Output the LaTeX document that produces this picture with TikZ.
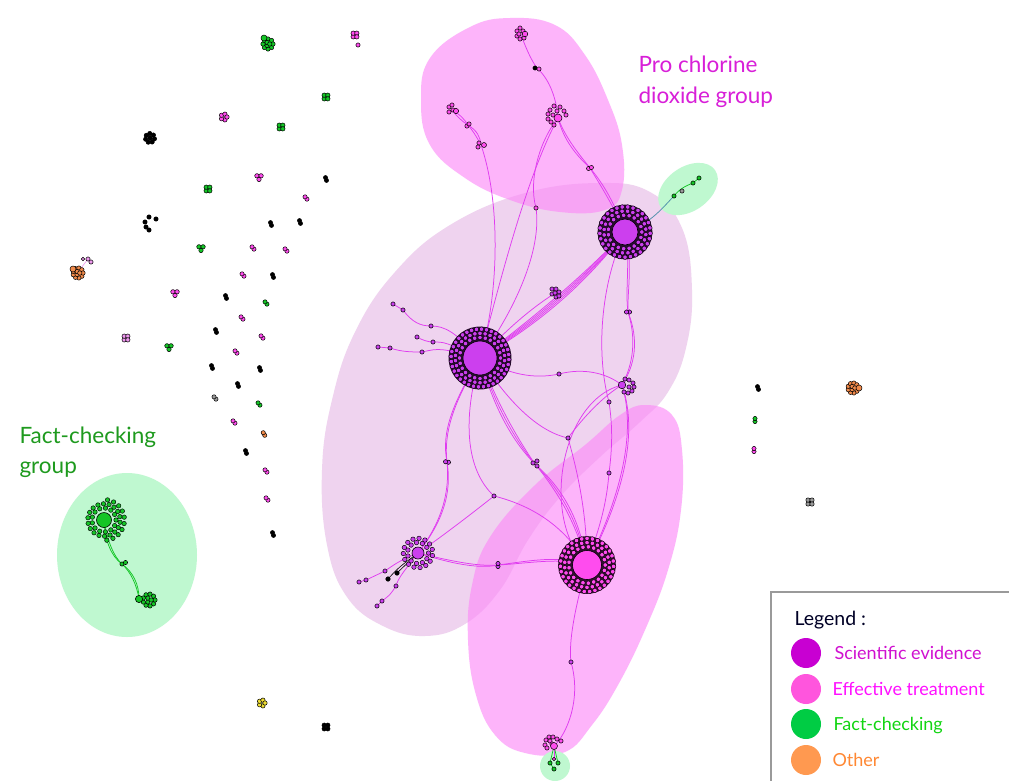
\documentclass[tikz,border=0pt]{standalone}
\usepackage{fontspec}
\setmainfont{Lato}
\usetikzlibrary{calc}
\definecolor{pur}{HTML}{CC3FEE}
\definecolor{pnk}{HTML}{FF4CEE}
\definecolor{grn}{HTML}{14C526}
\definecolor{org}{HTML}{F08A4B}
\definecolor{gry}{HTML}{9A9A9A}
\definecolor{ylw}{HTML}{EEDD33}
\definecolor{lpk}{HTML}{EE99EE}
\definecolor{edgec}{HTML}{E03CF0}
\definecolor{blobpur}{HTML}{EFD3EF}
\definecolor{blobpk}{HTML}{FC8CF8}
\definecolor{blobgr}{HTML}{BFF8D0}
\definecolor{teal}{HTML}{4F8FAA}
\definecolor{tpro}{HTML}{D81FD8}
\definecolor{tfc}{HTML}{1E9A1E}
\definecolor{lg1}{HTML}{C800D2}
\definecolor{lg2}{HTML}{FF55DD}
\definecolor{lg3}{HTML}{00CC44}
\definecolor{lg4}{HTML}{FF9950}
\definecolor{lt1}{HTML}{D010D0}
\definecolor{lt2}{HTML}{FF10FF}
\definecolor{lt3}{HTML}{11D511}
\definecolor{lt4}{HTML}{FF8833}
\tikzset{
  nd/.style={draw=black,line width=0.5pt},
  rd/.style={draw=black,line width=0.45pt},
  ed/.style={draw=edgec,line width=0.75pt},
  ged/.style={draw=grn,line width=0.75pt},
  ttl/.style={anchor=base west,font=\fontsize{22.5}{26}\selectfont},
  lgt/.style={anchor=base west,font=\fontsize{18}{21}\selectfont},
}
\newcommand\ringdots[5]{\foreach \k in {1,...,#3}{\filldraw[rd,fill=#4] ($(#1)+({#5+360*\k/#3}:#2)$) circle (2.25);}}
\newcommand\clus[6]{\foreach \k in {1,...,#4}{\filldraw[nd,fill=#3] ($(#1,#2)+({#6+360*\k/#4}:#5)$) circle (2.2);}}
\newcommand\pr[4]{\filldraw[nd,fill=#3] ($(#1,#2)+({#4}:1.5)$) circle (2.1);\filldraw[nd,fill=#3] ($(#1,#2)+({#4+180}:1.5)$) circle (2.1);}
\newcommand\underlay[3]{\fill[black!80!#3, even odd rule] (#1) circle (#2);}
\begin{document}
\begin{tikzpicture}[x=1pt,y=-1pt]
\useasboundingbox (0,0) rectangle (1009,780);
\fill[white] (0,0) rectangle (1009,780);
% ---------- blobs
\fill[blobpur] plot[smooth cycle,tension=0.7] coordinates {(600,183) (650,192) (682,228) (692,290) (686,348) (668,392) (640,422) (600,457) (560,497) (528,540) (500,590) (465,624) (425,636) (383,626) (347,597) (327,545) (322,470) (332,400) (355,332) (395,272) (450,225) (525,193)};
\fill[blobpk,opacity=0.65] plot[smooth cycle,tension=0.7] coordinates {(470,27) (430,58) (421,100) (430,145) (465,178) (510,200) (560,212) (605,210) (622,190) (622,145) (608,100) (585,55) (555,25) (510,18)};
\fill[blobpk,opacity=0.65] plot[smooth cycle,tension=0.7] coordinates {(645,405) (672,415) (682,450) (681,510) (668,570) (645,630) (618,685) (592,725) (565,752) (525,753) (495,735) (476,695) (468,640) (472,585) (490,537) (535,485) (585,445) (620,415)};
\fill[blobgr,rotate around={35:(688,189)}] (688,189) ellipse (33 and 22);
\fill[blobgr] (127,555) ellipse (70 and 82);
\fill[blobgr] (555,766) circle (15);
% ---------- coordinates
\coordinate (A) at (480,358);
\coordinate (B) at (625,232);
\coordinate (C) at (587,565);
\coordinate (D) at (418,553);
\coordinate (E) at (622,385);
\coordinate (T1) at (558,118);
\coordinate (T2) at (521,35);
\coordinate (T3) at (452,110);
\coordinate (p1) at (468,125);
\coordinate (p2) at (481,145);
\coordinate (bk) at (537,68);
\coordinate (t1p) at (590,168);
\coordinate (n1) at (536,208);
\coordinate (P1) at (555,293);
\coordinate (P2) at (628,312);
\coordinate (n2) at (559,374);
\coordinate (n3) at (609,402);
\coordinate (n4) at (568,438);
\coordinate (n5) at (609,473);
\coordinate (n6) at (447,462);
\coordinate (n7) at (494,496);
\coordinate (n8) at (535,464);
\coordinate (n9) at (498,565);
\coordinate (n10) at (571,662);
\coordinate (BOT) at (554,746);
\coordinate (g1) at (674,196);
\coordinate (g0) at (682,191);
\coordinate (g2) at (693,183);
\coordinate (g3) at (699,178);
\coordinate (gb0) at (554,759);
\coordinate (gb1) at (550,763);
\coordinate (gb2) at (558,763);
\coordinate (gb3) at (554,769);
\coordinate (l1) at (393,304);
\coordinate (l2) at (403,310);
\coordinate (l3) at (431,326);
\coordinate (l4) at (417,337);
\coordinate (l5) at (433,342);
\coordinate (l6) at (378,347);
\coordinate (l7) at (390,348);
\coordinate (l8) at (422,352);
\coordinate (d1) at (385,571);
\coordinate (d2) at (397,573);
\coordinate (d3) at (388,579);
\coordinate (d4) at (366,580);
\coordinate (d5) at (359,582);
\coordinate (d6) at (396,586);
\coordinate (d7) at (382,601);
\coordinate (d8) at (377,606);
\coordinate (F1) at (104,520);
\coordinate (F2) at (139,599);
\coordinate (fm) at (122,564);
\coordinate (O1) at (78,272);
\coordinate (op) at (88,259);
% ---------- edges
\foreach \o in {-4,-2,0,2,4} \draw[ed,shift={(\o*0.7,\o*0.7)}] (A) .. controls (530,325) and (580,285) .. (B);
\draw[ed] (A) .. controls (520,315) and (545,300) .. (P1);
\draw[ed] (T2) .. controls (526,48) and (531,60) .. (bk);
\draw[ed] (bk) .. controls (548,78) and (556,95) .. (T1);
\draw[ed] (T1) .. controls (540,140) and (528,180) .. (n1);
\draw[ed] (n1) .. controls (542,250) and (515,310) .. (A);
\draw[ed] (T1) .. controls (530,170) and (505,260) .. (A);
\foreach \o in {-1.2,1.2}{
  \draw[ed,shift={(\o,-\o*0.6)}] (T1) .. controls (565,140) and (578,155) .. (t1p);
  \draw[ed,shift={(\o,-\o*0.6)}] (t1p) .. controls (600,182) and (612,200) .. (B);
  \draw[ed,shift={(\o,-\o)}] (T3) .. controls (458,115) and (463,120) .. (p1);
  \draw[ed,shift={(\o,-\o)}] (p1) .. controls (476,132) and (479,138) .. (p2);
  \draw[ed,shift={(\o,0)}] (B) .. controls (632,262) and (626,290) .. (P2);
  \draw[ed,shift={(\o,0)}] (P2) .. controls (638,340) and (634,365) .. (E);
  \draw[ed,shift={(\o,-\o)}] (A) .. controls (455,400) and (442,430) .. (n6);
  \draw[ed,shift={(\o,-\o)}] (n6) .. controls (452,500) and (436,530) .. (D);
  \draw[ed,shift={(0,\o)}] (D) .. controls (450,562) and (478,568) .. (n9);
  \draw[ed,shift={(0,\o)}] (n9) .. controls (530,562) and (560,556) .. (C);
  \draw[ed,shift={(\o,0)}] (E) .. controls (640,440) and (615,510) .. (C);
  \draw[ged,shift={(\o,0)}] (F1) .. controls (106,540) and (112,556) .. (fm);
  \draw[ged,shift={(\o,0)}] (fm) .. controls (132,572) and (138,585) .. (F2);
}
\draw[ed] (p2) .. controls (500,200) and (500,290) .. (A);
\foreach \o in {-2,0,2}{
  \draw[ed,shift={(\o,-\o)}] (A) .. controls (495,405) and (515,440) .. (n8);
  \draw[ed,shift={(\o,-\o)}] (n8) .. controls (560,490) and (578,520) .. (C);
}
\draw[ed] (A) .. controls (515,378) and (540,378) .. (n2);
\draw[ed] (n2) .. controls (582,368) and (605,372) .. (E);
\draw[ed] (A) .. controls (510,405) and (540,432) .. (n4);
\draw[ed] (n4) .. controls (585,415) and (605,395) .. (E);
\draw[ed] (n4) .. controls (580,480) and (587,520) .. (C);
\draw[ed] (A) .. controls (462,420) and (466,470) .. (n7);
\draw[ed] (n7) .. controls (530,505) and (565,525) .. (C);
\draw[ed] (n7) .. controls (470,515) and (440,538) .. (D);
\draw[ed] (B) .. controls (600,285) and (596,355) .. (n3);
\draw[ed] (n3) .. controls (613,428) and (612,450) .. (n5);
\draw[ed] (n5) .. controls (606,510) and (598,530) .. (C);
\draw[ed] (E) .. controls (560,400) and (540,520) .. (C);
\draw[ed] (C) .. controls (577,600) and (568,640) .. (n10);
\draw[ed] (n10) .. controls (582,700) and (566,735) .. (BOT);
\draw[ed] (BOT) -- (gb0);
\draw[ged] (BOT) -- (gb1); \draw[ged] (BOT) -- (gb2); \draw[ged] (gb1) -- (gb3);
\draw[draw=teal,line width=0.75pt] (B) .. controls (650,225) and (665,205) .. (g1);
\draw[ged] (g1) .. controls (680,188) and (688,185) .. (g2) -- (g3);
% left leaves
\draw[ed] (l1) -- (l2);
\draw[ed] (l2) .. controls (412,322) and (420,326) .. (l3);
\draw[ed] (l3) .. controls (445,326) and (455,332) .. (A);
\draw[ed] (l4) .. controls (422,340) and (428,342) .. (l5) .. controls (445,342) .. (A);
\draw[ed] (l6) -- (l7);
\draw[ed] (l7) .. controls (402,352) and (412,352) .. (l8) .. controls (440,348) .. (A);
% D leaves
\draw[ed] (D) .. controls (400,560) and (392,566) .. (d1) .. controls (376,576) .. (d4) -- (d5);
\draw[black,line width=0.6pt] (D) -- (d2); \draw[black,line width=0.6pt] (D) .. controls (398,568) .. (d3);
\draw[ed] (D) .. controls (405,570) and (398,578) .. (d6) .. controls (390,595) .. (d7) -- (d8);
\draw[draw=lpk,line width=0.6pt] (O1) -- (op);
% ---------- hubs
\underlay{A}{31.4}{pur}
\ringdots{A}{20.5}{24}{pur}{0}
\ringdots{A}{24.7}{30}{pur}{6}
\ringdots{A}{28.9}{36}{pur}{3}
\filldraw[fill=pur,draw=black,line width=0.6pt] (A) circle (17);
\underlay{B}{27.4}{pur}
\ringdots{B}{16.8}{19}{pur}{0}
\ringdots{B}{21}{24}{pur}{7}
\ringdots{B}{25.2}{29}{pur}{3}
\filldraw[fill=pur,draw=black,line width=0.6pt] (B) circle (13);
\underlay{C}{28.8}{pnk}
\ringdots{C}{18.2}{21}{pnk}{0}
\ringdots{C}{22.4}{26}{pnk}{7}
\ringdots{C}{26.6}{31}{pnk}{3}
\filldraw[fill=pnk,draw=black,line width=0.6pt] (C) circle (14.5);
\ringdots{D}{10.5}{11}{pur}{0}
\ringdots{D}{14.7}{15}{pur}{10}
\filldraw[fill=pur,draw=black,line width=0.6pt] (D) circle (6);
\ringdots{F1}{12}{13}{grn}{0}
\ringdots{F1}{16.2}{18}{grn}{8}
\foreach \a in {-80,-62,-44,-26,-8,10,28,46,64,82}{\filldraw[rd,fill=grn] ($(F1)+(\a:20.4)$) circle (2.25);}
\filldraw[fill=grn,draw=black,line width=0.6pt] (F1) circle (7.5);
\clus{149}{600}{grn}{9}{6}{0}
\clus{149}{600}{grn}{3}{2.2}{0}
\filldraw[fill=grn,draw=black,line width=0.6pt] (F2) circle (3.6);
\filldraw[nd,fill=grn] (fm) circle (2.1); \filldraw[nd,fill=grn] ($(fm)+(3.5,-1.5)$) circle (2.1);
% E cluster
\foreach \x/\y in {625/379,629/380,633/383,634/387,632/391,628/393,624/392,629/387}{\filldraw[nd,fill=pur] (\x,\y) circle (2.1);}
\filldraw[fill=pur,draw=black,line width=0.5pt] (E) circle (3.8);
% T1 cluster
\foreach \x/\y in {550/110,554/106,560/107,564/111,566/115,548/114,548/119,551/122,554/125,553/115,557/111}{\filldraw[nd,fill=pnk] (\x,\y) circle (2.1);}
\filldraw[fill=pnk,draw=black,line width=0.5pt] (T1) circle (4);
% T2 cluster
\foreach \x/\y in {517/31,520/28,523/31,517/36,520/39,524/38,519/34}{\filldraw[nd,fill=pnk] (\x,\y) circle (2.1);}
\filldraw[nd,fill=pnk] (525,34) circle (2.8);
% T3 cluster & pairs
\foreach \x/\y in {449/107,452/105,449/112,453/110}{\filldraw[nd,fill=pnk] (\x,\y) circle (2.1);}
\filldraw[nd,fill=pnk] (456,111) circle (2.6);
\pr{468}{125}{pnk}{135}
\foreach \x/\y in {479/143,478/147}{\filldraw[nd,fill=pnk] (\x,\y) circle (2.1);}
\filldraw[nd,fill=pnk] (484,145) circle (2.5);
\filldraw[nd,fill=black] (535,68) circle (2.1); \filldraw[nd,fill=pnk] (539,69) circle (2.1);
\pr{590}{168}{pnk}{160}
\filldraw[nd,fill=pnk] (n1) circle (2.1);
% P1 cluster
\foreach \x/\y in {552/289,556/289,559/292,552/294,556/297,559/296,555/293}{\filldraw[nd,fill=pur] (\x,\y) circle (2.1);}
\pr{628}{312}{pur}{0}
\foreach \n in {n2,n3,n4,n5,n7,n10}{\filldraw[nd,fill=pur] (\n) circle (2.1);}
\pr{447}{462}{pur}{10}
\foreach \x/\y in {533/463,537/461,537/466}{\filldraw[nd,fill=pur] (\x,\y) circle (2.1);}
\pr{498}{565}{pur}{90}
% BOT cluster
\foreach \x/\y in {546/740,549/737,553/737,557/739,561/741,545/745,547/748,550/741,552/744}{\filldraw[nd,fill=pnk] (\x,\y) circle (2.1);}
\filldraw[fill=pnk,draw=black,line width=0.5pt] (BOT) circle (3.5);
\filldraw[nd,fill=pnk] (gb0) circle (1.8);
\foreach \n in {gb1,gb2,gb3}{\filldraw[nd,fill=grn] (\n) circle (2.1);}
% green near B
\filldraw[nd,fill=grn] (g1) circle (2.1); \filldraw[nd,fill=gry] (g0) circle (2.1);
\filldraw[nd,fill=grn] (g2) circle (2.1); \filldraw[nd,fill=grn] (g3) circle (2.1);
% leaves
\foreach \n in {l1,l2,l3,l4,l5,l6,l7,l8,d1,d4,d5,d6,d7,d8}{\filldraw[nd,fill=pur] (\n) circle (2.1);}
\filldraw[fill=black] (d2) circle (2.3); \filldraw[fill=black] (d3) circle (2.3);
% ---------- scattered components
\clus{268}{44}{grn}{8}{5}{0} \clus{268}{44}{grn}{3}{1.8}{0} \filldraw[nd,fill=grn] (264,38) circle (3);
\clus{355}{35}{pnk}{4}{2.6}{45} \filldraw[nd,fill=pnk] (358,45) circle (2.1);
\clus{326}{97}{grn}{4}{2.6}{45}
\clus{224}{117}{pnk}{5}{3}{0}
\clus{281}{127}{grn}{4}{2.6}{45}
\clus{150}{138}{black}{7}{4.5}{10} \filldraw[nd,fill=black] (150,138) circle (2.2);
\clus{259}{177}{pnk}{3}{2.4}{90}
\clus{208}{189}{grn}{4}{2.6}{45}
\foreach \x/\y in {149/217,156/219,145/222,146/227,149/230}{\filldraw[nd,fill=black] (\x,\y) circle (2.2);}
\clus{201}{248}{grn}{3}{2.4}{90}
\clus{175}{293}{pnk}{3}{2.4}{90}
\clus{126}{338}{lpk}{4}{2.6}{45}
\clus{169}{347}{grn}{3}{2.4}{90}
\clus{78}{273}{org}{9}{5}{0} \clus{78}{273}{org}{3}{1.8}{0} \filldraw[nd,fill=org] (73,269) circle (3);
\filldraw[nd,fill=lpk] (op) circle (2.1); \filldraw[nd,fill=lpk] (83,259) circle (1.8); \filldraw[nd,fill=lpk] (91,262) circle (2.1);
\clus{853}{388}{org}{9}{5}{0} \clus{853}{388}{org}{3}{1.8}{0} \filldraw[nd,fill=org] (859,388) circle (3);
\clus{810}{502}{gry}{4}{2.8}{45}
\clus{262}{703}{ylw}{5}{3}{0}
\clus{326}{727}{black}{4}{2.6}{45}
\foreach \x/\y in {326/179,271/224,300/222,273/276,226/297,216/331,212/367,260/369,238/385,246/452,273/534,758/388}{\pr{\x}{\y}{black}{70}}
\foreach \x/\y in {306/198,253/248,286/250,243/275,242/318,262/337,236/352,234/422,266/471,267/499}{\pr{\x}{\y}{pnk}{50}}
\foreach \x/\y in {266/303,259/404}{\pr{\x}{\y}{grn}{50}}
\pr{215}{398}{gry}{50}
\pr{264}{434}{org}{60}
\pr{755}{420}{grn}{90}
\pr{754}{450}{pnk}{90}
% ---------- titles
\node[ttl,text=tpro] (pt1) at (635,72) {Pro chlorine};
\node[ttl,text=tpro] (pt2) at (635,103) {dioxide group};
\node[ttl,text=tfc] (ft1) at (16,443) {Fact-checking};
\node[ttl,text=tfc] (ft2) at (16,473) {group};
% ---------- legend
\draw[draw=gry,line width=1.2pt,fill=white] (771,592) rectangle (1030,800);
\node[lgt,text=black!85!blue,font=\fontsize{19.5}{22}\selectfont] (lgh) at (791,625) {Legend :};
\fill[lg1] (806,653) circle (15);
\fill[lg2] (806,689) circle (15);
\fill[lg3] (806,724) circle (15);
\fill[lg4] (806,760) circle (15);
\node[lgt,text=lt1] (lgA) at (831,659) {Scientific evidence};
\node[lgt,text=lt2] (lgB) at (829,695) {Effective treatment};
\node[lgt,text=lt3] (lgC) at (830,730) {Fact-checking};
\node[lgt,text=lt4] (lgD) at (829,766) {Other};
\end{tikzpicture}
\end{document}
